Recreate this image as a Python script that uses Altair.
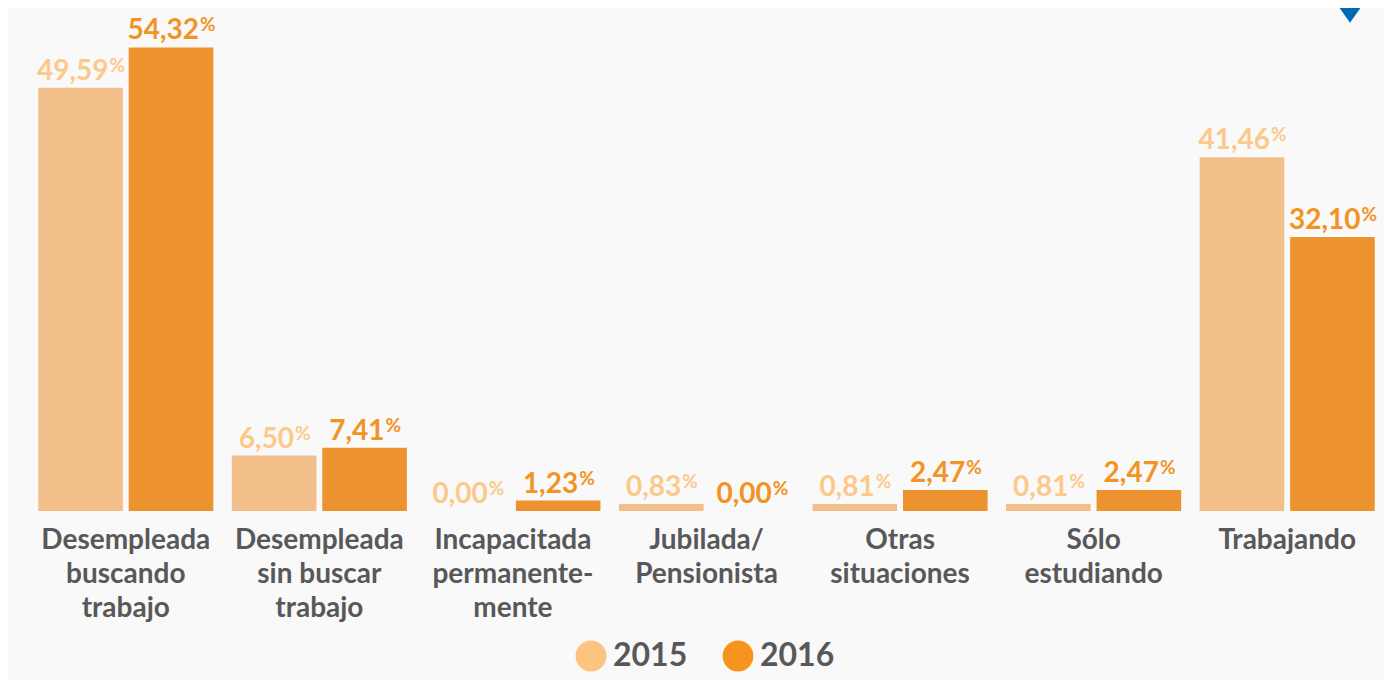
import altair as alt
import pandas as pd

categories = [
    "Desempleada buscando trabajo",
    "Desempleada sin buscar trabajo",
    "Incapacitada permanentemente",
    "Jubilada/Pensionista",
    "Otras situaciones",
    "Sólo estudiando",
    "Trabajando",
]
label_lines = [
    ["Desempleada", "buscando", "trabajo"],
    ["Desempleada", "sin buscar", "trabajo"],
    ["Incapacitada", "permanente-", "mente"],
    ["Jubilada/", "Pensionista"],
    ["Otras", "situaciones"],
    ["Sólo", "estudiando"],
    ["Trabajando"],
]
years = ["2015", "2016"]
values_2015 = [49.59, 6.50, 0.00, 0.83, 0.81, 0.81, 41.46]
values_2016 = [54.32, 7.41, 1.23, 0.00, 2.47, 2.47, 32.10]

rows = []
for c, v in zip(categories, values_2015):
    rows.append({"category": c, "year": "2015", "value": v})
for c, v in zip(categories, values_2016):
    rows.append({"category": c, "year": "2016", "value": v})
df = pd.DataFrame(rows)

bar_colors = ["#f2be8a", "#ec922f"]
legend_colors = ["#fdc47f", "#f7941d"]
text_colors = ["#fdc98a", "#f39323"]
gray = "#58585a"
FONT = "Lato"

lookup = "{" + ", ".join(
    "'" + c + "': [" + ", ".join("'" + l + "'" for l in ls) + "]"
    for c, ls in zip(categories, label_lines)
) + "}"

x_enc = alt.X(
    "category:N",
    sort=categories,
    scale=alt.Scale(paddingInner=0.0956, paddingOuter=0.0478),
    axis=alt.Axis(
        title=None,
        labelAngle=0,
        labelExpr=lookup + "[datum.value]",
        labelFont=FONT,
        labelFontWeight="bold",
        labelFontSize=28,
        labelColor=gray,
        labelLineHeight=34,
        labelPadding=15,
        labelLimit=0,
        domain=False,
        ticks=False,
        grid=False,
    ),
)
xo_enc = alt.XOffset("year:N", sort=years, scale=alt.Scale(paddingInner=0.065, paddingOuter=0))
y_enc = alt.Y("value:Q", scale=alt.Scale(domain=[0, 58]), axis=None)

base = alt.Chart(df).encode(x=x_enc, xOffset=xo_enc, y=y_enc)

bars = base.mark_bar().encode(
    fill=alt.condition(alt.datum.year == "2015", alt.value(bar_colors[0]), alt.value(bar_colors[1]))
)

legend_layer = base.mark_point(filled=True, opacity=0).encode(
    color=alt.Color(
        "year:N",
        sort=years,
        scale=alt.Scale(domain=years, range=legend_colors),
        legend=alt.Legend(
            title=None,
            orient="none",
            legendX=546,
            legendY=624,
            direction="horizontal",
            symbolType="circle",
            symbolSize=950,
            symbolStrokeWidth=0,
            symbolOpacity=1,
            labelFont=FONT,
            labelFontWeight="bold",
            labelFontSize=32,
            labelColor=gray,
            columnPadding=34,
            labelOffset=6,
        ),
    )
)

txt_color = alt.condition(alt.datum.year == "2015", alt.value(text_colors[0]), alt.value(text_colors[1]))

lab = base.transform_calculate(
    label="replace(format(datum.value, '.2f'), '.', ',')"
).transform_calculate(n="length(datum.label)")


def num_layer(filt, dx):
    return lab.transform_filter(filt).mark_text(
        align="right", baseline="alphabetic", dx=dx, dy=-8,
        font=FONT, fontWeight="bold", fontSize=28,
    ).encode(text="label:N", color=txt_color)


def pct_layer(filt, dx):
    return lab.transform_filter(filt).mark_text(
        align="left", baseline="alphabetic", dx=dx, dy=-16,
        font=FONT, fontWeight="bold", fontSize=19, text="%",
    ).encode(color=txt_color)


# decorative blue marker at the top right corner
marker = alt.Chart(pd.DataFrame({"k": [0]})).mark_point(
    shape="M -1.42 -1 L 1.42 -1 L 0 1 Z", filled=True, opacity=1,
    color="#0069b4", size=300,
).encode(x=alt.value(1321), y=alt.value(-2))

layers = [
    bars,
    legend_layer,
    num_layer("datum.n >= 5", 28),
    pct_layer("datum.n >= 5", 29),
    num_layer("datum.n < 5", 20),
    pct_layer("datum.n < 5", 21),
    marker,
]

chart = alt.layer(*layers).properties(
    width=1355,
    height=495,
    background="#f9f9f9",
    autosize=alt.AutoSizeParams(type="none"),
    padding={"left": 21, "right": 0, "top": 8, "bottom": 169},
).configure_view(stroke=None)

chart.save("out.html", embed_options={"renderer": "svg", "actions": False})
